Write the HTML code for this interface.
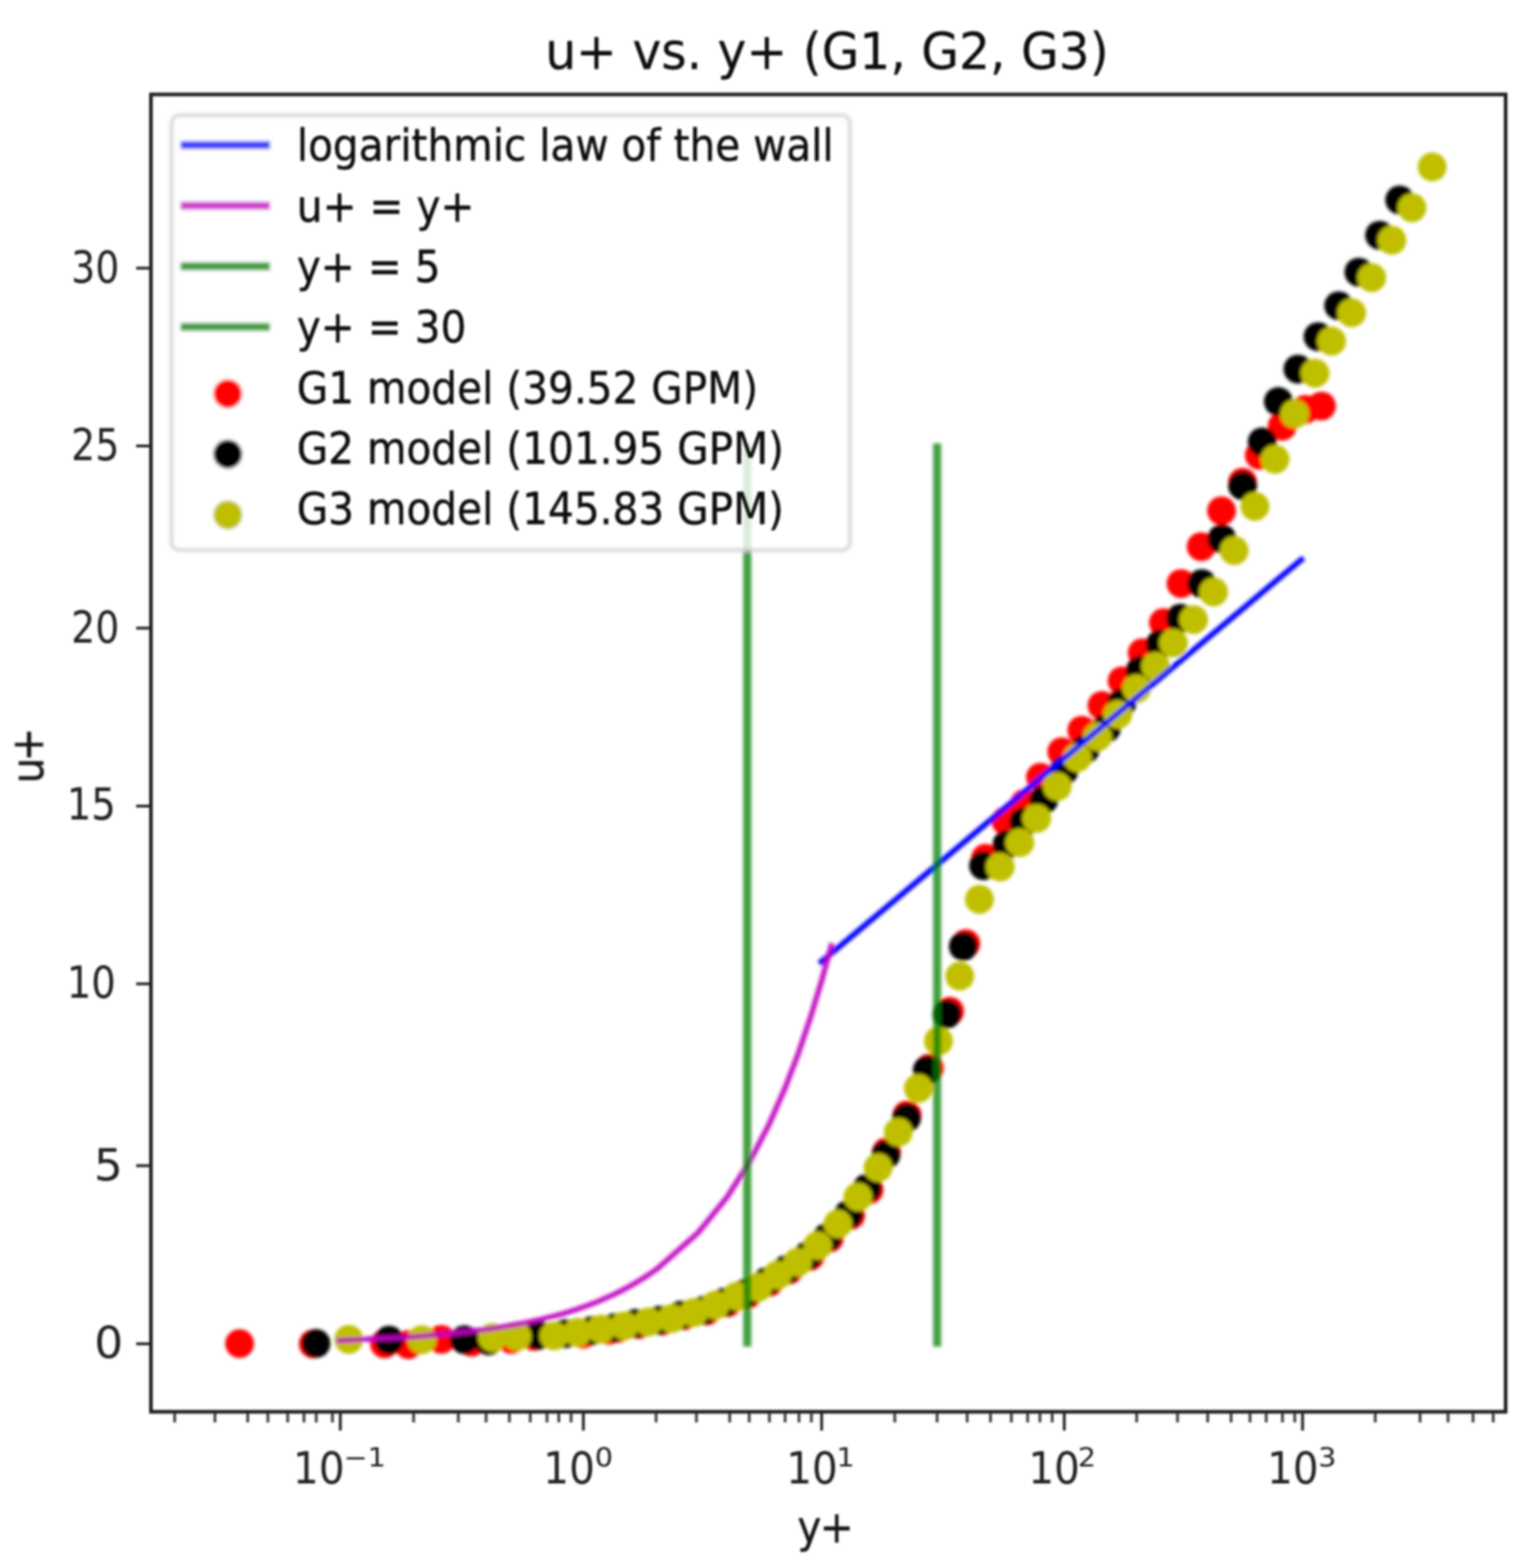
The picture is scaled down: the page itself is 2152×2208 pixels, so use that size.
<!DOCTYPE html>
<html lang="en">
<head>
<meta charset="utf-8">
<title>u+ vs. y+ (G1, G2, G3)</title>
<style>
html, body { margin: 0; padding: 0; background: #ffffff; }
body { width: 2152px; height: 2208px; overflow: hidden; }
svg { display: block; }
text { font-family: "DejaVu Sans", "Liberation Sans", sans-serif; fill: #0c0c0c; stroke: #0c0c0c; stroke-width: 0.5px; stroke-linejoin: round; }
.tl { font-size: 57.2px; }
.tk { font-size: 57.2px; stroke-width: 0.0px; fill: #202020; stroke: #202020; }
.al { font-size: 57.2px; stroke-width: 0.5px; fill: #161616; stroke: #161616; }
.sup { font-size: 36.5px; stroke-width: 0.0px; fill: #202020; stroke: #202020; }
.title { font-size: 68.6px; stroke-width: 0.3px; }
</style>
</head>
<body>
<svg width="2152" height="2208" viewBox="0 0 2152 2208">
<defs>
<filter id="soft" x="-2%" y="-2%" width="104%" height="104%"><feGaussianBlur stdDeviation="2.4"/></filter>
<filter id="softl" x="-2%" y="-2%" width="104%" height="104%"><feGaussianBlur stdDeviation="1.5"/></filter>
<filter id="softt" x="-2%" y="-2%" width="104%" height="104%"><feGaussianBlur stdDeviation="1.8"/></filter>
<clipPath id="axclip"><rect x="212.6" y="133.0" width="1907.9" height="1855.0"/></clipPath>
</defs>
<rect x="0" y="0" width="2152" height="2208" fill="#ffffff"/>
<g filter="url(#soft)">

<g clip-path="url(#axclip)">
<g id="g1" fill="#ff0000">
<circle cx="1861.1" cy="571.7" r="20.3"/>
<circle cx="1838.2" cy="576.5" r="20.3"/>
<circle cx="1805.9" cy="600.1" r="20.3"/>
<circle cx="1773.6" cy="641.0" r="20.3"/>
<circle cx="1750.0" cy="679.0" r="20.3"/>
<circle cx="1720.4" cy="719.3" r="20.3"/>
<circle cx="1691.8" cy="769.7" r="20.3"/>
<circle cx="1663.4" cy="821.7" r="20.3"/>
<circle cx="1638.6" cy="876.8" r="20.3"/>
<circle cx="1608.7" cy="919.3" r="20.3"/>
<circle cx="1580.4" cy="958.7" r="20.3"/>
<circle cx="1552.0" cy="993.4" r="20.3"/>
<circle cx="1523.7" cy="1028.2" r="20.3"/>
<circle cx="1495.4" cy="1058.5" r="20.3"/>
<circle cx="1465.4" cy="1094.5" r="20.3"/>
<circle cx="1443.0" cy="1131.5" r="20.3"/>
<circle cx="1416.6" cy="1156.0" r="20.3"/>
<circle cx="1388.0" cy="1208.5" r="20.3"/>
<circle cx="1360.3" cy="1328.8" r="20.3"/>
<circle cx="1337.5" cy="1424.1" r="20.3"/>
<circle cx="1309.0" cy="1504.0" r="20.3"/>
<circle cx="1277.5" cy="1570.0" r="20.3"/>
<circle cx="1248.5" cy="1622.0" r="20.3"/>
<circle cx="1224.0" cy="1675.5" r="20.3"/>
<circle cx="1198.0" cy="1711.5" r="20.3"/>
<circle cx="1168.0" cy="1743.5" r="20.3"/>
<circle cx="1141.0" cy="1769.0" r="20.3"/>
<circle cx="1111.0" cy="1788.5" r="20.3"/>
<circle cx="1083.5" cy="1805.5" r="20.3"/>
<circle cx="1053.0" cy="1822.5" r="20.3"/>
<circle cx="1024.5" cy="1834.5" r="20.3"/>
<circle cx="995.0" cy="1846.0" r="20.3"/>
<circle cx="963.5" cy="1852.5" r="20.3"/>
<circle cx="933.0" cy="1860.0" r="20.3"/>
<circle cx="899.5" cy="1865.0" r="20.3"/>
<circle cx="870.0" cy="1870.5" r="20.3"/>
<circle cx="857.0" cy="1873.0" r="20.3"/>
<circle cx="821.0" cy="1878.5" r="20.3"/>
<circle cx="751.7" cy="1881.8" r="20.3"/>
<circle cx="720.0" cy="1886.0" r="20.3"/>
<circle cx="664.0" cy="1890.0" r="20.3"/>
<circle cx="621.6" cy="1886.0" r="20.3"/>
<circle cx="575.2" cy="1893.4" r="20.3"/>
<circle cx="541.6" cy="1892.4" r="20.3"/>
<circle cx="441.2" cy="1892.4" r="20.3"/>
<circle cx="337.4" cy="1892.0" r="20.3"/>
</g>
<g id="g2" fill="#000000">
<circle cx="1971.3" cy="281.6" r="20.3"/>
<circle cx="1943.0" cy="331.2" r="20.3"/>
<circle cx="1913.8" cy="383.2" r="20.3"/>
<circle cx="1885.4" cy="430.5" r="20.3"/>
<circle cx="1856.3" cy="474.1" r="20.3"/>
<circle cx="1828.0" cy="519.7" r="20.3"/>
<circle cx="1800.4" cy="565.4" r="20.3"/>
<circle cx="1777.6" cy="622.2" r="20.3"/>
<circle cx="1750.0" cy="683.9" r="20.3"/>
<circle cx="1720.9" cy="758.7" r="20.3"/>
<circle cx="1692.5" cy="821.7" r="20.3"/>
<circle cx="1662.6" cy="870.6" r="20.3"/>
<circle cx="1634.0" cy="907.0" r="20.3"/>
<circle cx="1606.0" cy="944.0" r="20.3"/>
<circle cx="1580.0" cy="990.0" r="20.3"/>
<circle cx="1558.4" cy="1025.2" r="20.3"/>
<circle cx="1528.5" cy="1055.0" r="20.3"/>
<circle cx="1498.5" cy="1085.1" r="20.3"/>
<circle cx="1470.2" cy="1126.0" r="20.3"/>
<circle cx="1441.8" cy="1157.6" r="20.3"/>
<circle cx="1418.2" cy="1189.0" r="20.3"/>
<circle cx="1385.1" cy="1219.0" r="20.3"/>
<circle cx="1356.7" cy="1332.7" r="20.3"/>
<circle cx="1333.6" cy="1428.0" r="20.3"/>
<circle cx="1306.0" cy="1507.0" r="20.3"/>
<circle cx="1276.9" cy="1574.1" r="20.3"/>
<circle cx="1247.7" cy="1626.0" r="20.3"/>
<circle cx="1221.0" cy="1673.3" r="20.3"/>
<circle cx="1195.0" cy="1710.0" r="20.3"/>
<circle cx="1165.0" cy="1742.5" r="20.3"/>
<circle cx="1138.0" cy="1768.0" r="20.3"/>
<circle cx="1108.0" cy="1787.5" r="20.3"/>
<circle cx="1080.2" cy="1804.5" r="20.3"/>
<circle cx="1049.5" cy="1821.5" r="20.3"/>
<circle cx="1021.0" cy="1833.5" r="20.3"/>
<circle cx="991.5" cy="1845.0" r="20.3"/>
<circle cx="959.0" cy="1852.0" r="20.3"/>
<circle cx="929.0" cy="1859.0" r="20.3"/>
<circle cx="895.5" cy="1863.5" r="20.3"/>
<circle cx="866.0" cy="1869.5" r="20.3"/>
<circle cx="834.0" cy="1873.5" r="20.3"/>
<circle cx="796.0" cy="1878.0" r="20.3"/>
<circle cx="758.0" cy="1880.2" r="20.3"/>
<circle cx="688.0" cy="1888.0" r="20.3"/>
<circle cx="654.0" cy="1886.5" r="20.3"/>
<circle cx="547.9" cy="1887.1" r="20.3"/>
<circle cx="445.0" cy="1891.8" r="20.3"/>
</g>
<g id="g3" fill="#bfbf00">
<circle cx="2017.0" cy="235.1" r="20.3"/>
<circle cx="1988.6" cy="292.6" r="20.3"/>
<circle cx="1960.3" cy="338.3" r="20.3"/>
<circle cx="1931.9" cy="391.0" r="20.3"/>
<circle cx="1903.6" cy="440.4" r="20.3"/>
<circle cx="1875.3" cy="480.4" r="20.3"/>
<circle cx="1852.0" cy="525.5" r="20.3"/>
<circle cx="1823.3" cy="582.8" r="20.3"/>
<circle cx="1795.7" cy="646.6" r="20.3"/>
<circle cx="1767.4" cy="713.0" r="20.3"/>
<circle cx="1738.2" cy="775.3" r="20.3"/>
<circle cx="1709.1" cy="833.6" r="20.3"/>
<circle cx="1681.0" cy="872.5" r="20.3"/>
<circle cx="1652.6" cy="905.5" r="20.3"/>
<circle cx="1627.6" cy="938.2" r="20.3"/>
<circle cx="1600.8" cy="969.7" r="20.3"/>
<circle cx="1574.1" cy="1006.0" r="20.3"/>
<circle cx="1545.7" cy="1037.5" r="20.3"/>
<circle cx="1517.3" cy="1067.0" r="20.3"/>
<circle cx="1489.0" cy="1107.5" r="20.3"/>
<circle cx="1460.0" cy="1152.5" r="20.3"/>
<circle cx="1436.3" cy="1186.5" r="20.3"/>
<circle cx="1408.7" cy="1220.8" r="20.3"/>
<circle cx="1379.4" cy="1266.4" r="20.3"/>
<circle cx="1351.7" cy="1374.5" r="20.3"/>
<circle cx="1321.7" cy="1465.9" r="20.3"/>
<circle cx="1293.4" cy="1532.5" r="20.3"/>
<circle cx="1265.1" cy="1594.3" r="20.3"/>
<circle cx="1236.7" cy="1644.3" r="20.3"/>
<circle cx="1208.3" cy="1685.5" r="20.3"/>
<circle cx="1180.0" cy="1723.5" r="20.3"/>
<circle cx="1151.6" cy="1754.0" r="20.3"/>
<circle cx="1123.3" cy="1777.5" r="20.3"/>
<circle cx="1094.9" cy="1795.5" r="20.3"/>
<circle cx="1067.6" cy="1812.6" r="20.3"/>
<circle cx="1038.2" cy="1825.2" r="20.3"/>
<circle cx="1007.5" cy="1837.8" r="20.3"/>
<circle cx="977.3" cy="1848.3" r="20.3"/>
<circle cx="946.0" cy="1856.7" r="20.3"/>
<circle cx="913.0" cy="1861.5" r="20.3"/>
<circle cx="879.4" cy="1867.0" r="20.3"/>
<circle cx="846.3" cy="1871.5" r="20.3"/>
<circle cx="813.2" cy="1876.0" r="20.3"/>
<circle cx="780.1" cy="1881.0" r="20.3"/>
<circle cx="728.1" cy="1881.8" r="20.3"/>
<circle cx="693.4" cy="1883.4" r="20.3"/>
<circle cx="594.2" cy="1886.5" r="20.3"/>
<circle cx="491.2" cy="1886.0" r="20.3"/>
</g>
<path d="M1156.8 1354.3 L1832.9 788.0" stroke="#0000ff" stroke-width="7.8" stroke-linecap="square" fill="none"/>
<path d="M477.7 1887.7 L579.7 1882.7 L639.4 1877.6 L681.7 1872.6 L714.5 1867.5 L741.3 1862.5 L764.0 1857.4 L783.7 1852.4 L801.0 1847.3 L816.5 1842.3 L830.5 1837.2 L843.3 1832.2 L855.1 1827.1 L866.0 1822.1 L876.2 1817.0 L885.7 1812.0 L894.6 1806.9 L903.0 1801.8 L910.9 1796.8 L918.5 1791.7 L925.7 1786.7 L983.0 1736.2 L1024.1 1685.6 L1056.2 1635.1 L1082.6 1584.6 L1104.9 1534.0 L1124.3 1483.5 L1141.4 1433.0 L1156.8 1382.4 L1170.7 1331.9" stroke="#bf00bf" stroke-width="7.6" stroke-linecap="square" stroke-linejoin="round" fill="none" stroke-opacity="0.92"/>
<rect x="1046.7" y="624.5" width="11.4" height="1271.8" fill="#008000" fill-opacity="0.75"/>
<rect x="1314.1" y="624.5" width="11.4" height="1271.8" fill="#008000" fill-opacity="0.75"/>
</g>
<rect x="241.5" y="162.5" width="955.5" height="612.0" rx="11.0" ry="11.0" fill="#ffffff" fill-opacity="0.8" stroke="#cccccc" stroke-opacity="0.8" stroke-width="5.0"/>
<rect x="254.2" y="198.6" width="126.1" height="11.4" fill="#0000ff" fill-opacity="0.75"/>
<rect x="254.2" y="283.9" width="126.1" height="11.4" fill="#bf00bf" fill-opacity="0.75"/>
<rect x="254.2" y="369.3" width="126.1" height="11.4" fill="#008000" fill-opacity="0.75"/>
<rect x="254.2" y="454.7" width="126.1" height="11.4" fill="#008000" fill-opacity="0.75"/>
<circle cx="320.8" cy="554.4" r="20.3" fill="#ff0000"/>
<circle cx="320.8" cy="639.5" r="20.3" fill="#000000"/>
<circle cx="320.8" cy="725.1" r="20.3" fill="#bfbf00"/>
</g>
<g filter="url(#softl)">
<g stroke="#262626" stroke-width="4.0" fill="none">
<path d="M212.6 1892.3 H191.79999999999998"/>
<path d="M212.6 1641.5 H191.79999999999998"/>
<path d="M212.6 1385.4 H191.79999999999998"/>
<path d="M212.6 1135.1 H191.79999999999998"/>
<path d="M212.6 884.5 H191.79999999999998"/>
<path d="M212.6 628.0 H191.79999999999998"/>
<path d="M212.6 377.6 H191.79999999999998"/>
<path d="M479.3 1988.0 V2014.5"/>
<path d="M821.6 1988.0 V2014.5"/>
<path d="M1157.2 1988.0 V2014.5"/>
<path d="M1498.9 1988.0 V2014.5"/>
<path d="M1834.5 1988.0 V2014.5"/>
</g>
<g stroke="#484848" stroke-width="4.2" fill="none">
<path d="M246.0 1988.0 V2003.0"/>
<path d="M302.7 1988.0 V2003.0"/>
<path d="M348.9 1988.0 V2003.0"/>
<path d="M377.3 1988.0 V2003.0"/>
<path d="M405.2 1988.0 V2003.0"/>
<path d="M428.1 1988.0 V2003.0"/>
<path d="M445.4 1988.0 V2003.0"/>
<path d="M468.2 1988.0 V2003.0"/>
<path d="M582.5 1988.0 V2003.0"/>
<path d="M645.5 1988.0 V2003.0"/>
<path d="M684.6 1988.0 V2003.0"/>
<path d="M717.4 1988.0 V2003.0"/>
<path d="M746.8 1988.0 V2003.0"/>
<path d="M770.4 1988.0 V2003.0"/>
<path d="M787.0 1988.0 V2003.0"/>
<path d="M804.3 1988.0 V2003.0"/>
<path d="M924.0 1988.0 V2003.0"/>
<path d="M980.8 1988.0 V2003.0"/>
<path d="M1027.7 1988.0 V2003.0"/>
<path d="M1055.2 1988.0 V2003.0"/>
<path d="M1083.6 1988.0 V2003.0"/>
<path d="M1105.7 1988.0 V2003.0"/>
<path d="M1125.3 1988.0 V2003.0"/>
<path d="M1142.7 1988.0 V2003.0"/>
<path d="M1260.2 1988.0 V2003.0"/>
<path d="M1319.8 1988.0 V2003.0"/>
<path d="M1362.2 1988.0 V2003.0"/>
<path d="M1395.0 1988.0 V2003.0"/>
<path d="M1424.4 1988.0 V2003.0"/>
<path d="M1447.3 1988.0 V2003.0"/>
<path d="M1464.6 1988.0 V2003.0"/>
<path d="M1481.9 1988.0 V2003.0"/>
<path d="M1600.9 1988.0 V2003.0"/>
<path d="M1658.4 1988.0 V2003.0"/>
<path d="M1700.9 1988.0 V2003.0"/>
<path d="M1733.8 1988.0 V2003.0"/>
<path d="M1760.5 1988.0 V2003.0"/>
<path d="M1783.3 1988.0 V2003.0"/>
<path d="M1806.2 1988.0 V2003.0"/>
<path d="M1823.5 1988.0 V2003.0"/>
<path d="M1936.9 1988.0 V2003.0"/>
<path d="M2000.0 1988.0 V2003.0"/>
<path d="M2039.4 1988.0 V2003.0"/>
<path d="M2074.6 1988.0 V2003.0"/>
<path d="M2103.0 1988.0 V2003.0"/>
</g>
<rect x="212.6" y="133.0" width="1907.9" height="1855.0" fill="none" stroke="#222222" stroke-width="5.2" stroke-linejoin="miter"/>
</g>
<g filter="url(#softt)">
<text class="tk" transform="translate(173.5 1912.4) scale(1.120 1.100)" text-anchor="end">0</text>
<text class="tk" transform="translate(173.0 1661.6) scale(1.120 1.100)" text-anchor="end">5</text>
<text class="tk" transform="translate(163.0 1404.9) scale(0.950 1.100)" text-anchor="end">10</text>
<text class="tk" transform="translate(163.0 1153.5) scale(0.950 1.100)" text-anchor="end">15</text>
<text class="tk" transform="translate(168.0 904.9) scale(0.930 1.100)" text-anchor="end">20</text>
<text class="tk" transform="translate(168.0 648.2) scale(0.930 1.100)" text-anchor="end">25</text>
<text class="tk" transform="translate(168.0 398.2) scale(0.930 1.100)" text-anchor="end">30</text>
<text class="tk" transform="translate(412.6 2089.0) scale(1.000 1.100)">10</text>
<text class="sup" transform="translate(484.0 2064.5) scale(1.100 1.000)">−1</text>
<text class="tk" transform="translate(765.0 2089.0) scale(1.000 1.100)">10</text>
<text class="sup" transform="translate(837.8 2064.5) scale(1.100 1.000)">0</text>
<text class="tk" transform="translate(1107.2 2089.0) scale(1.000 1.100)">10</text>
<text class="sup" transform="translate(1178.0 2064.5) scale(1.100 1.000)">1</text>
<text class="tk" transform="translate(1448.2 2089.0) scale(1.000 1.100)">10</text>
<text class="sup" transform="translate(1518.0 2064.5) scale(1.100 1.000)">2</text>
<text class="tk" transform="translate(1784.4 2089.0) scale(1.000 1.100)">10</text>
<text class="sup" transform="translate(1856.6 2064.5) scale(1.100 1.000)">3</text>
<text class="al" transform="translate(1161.5 2171.5) scale(1.000 1.100)" text-anchor="middle" letter-spacing="-2.5">y+</text>
<text class="al" transform="translate(60.2 1066.7) rotate(-90) scale(1.000 1.100)" text-anchor="middle" letter-spacing="-5.5">u+</text>
<text class="title" transform="translate(1164.7 96.5) scale(1.000 1.030)" text-anchor="middle">u+ vs. y+ (G1, G2, G3)</text>
<text class="tl" transform="translate(418.0 226.3) scale(1.000 1.100)">logarithmic law of the wall</text>
<text class="tl" transform="translate(418.0 311.6) scale(1.000 1.100)">u+ = y+</text>
<text class="tl" transform="translate(418.0 396.9) scale(1.000 1.100)">y+ = 5</text>
<text class="tl" transform="translate(418.0 482.2) scale(1.000 1.100)">y+ = 30</text>
<text class="tl" transform="translate(418.0 567.5) scale(1.000 1.100)">G1 model (39.52 GPM)</text>
<text class="tl" transform="translate(418.0 652.8) scale(1.000 1.100)">G2 model (101.95 GPM)</text>
<text class="tl" transform="translate(418.0 738.1) scale(1.000 1.100)">G3 model (145.83 GPM)</text>
</g>
</svg>
</body>
</html>
